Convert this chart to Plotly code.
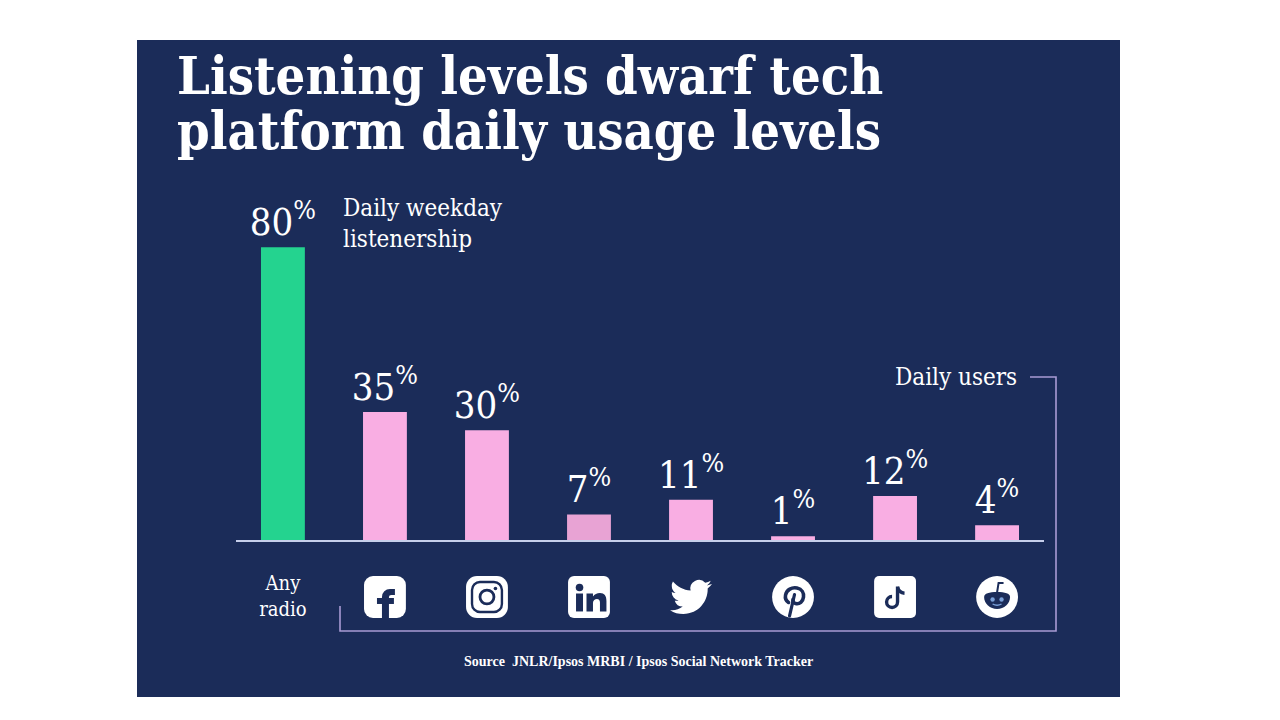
import base64
import plotly.graph_objects as go

# ---------------- data ----------------
categories = ["Any radio", "Facebook", "Instagram", "LinkedIn", "Twitter", "Pinterest", "TikTok", "Reddit"]
values = [80, 35, 30, 7, 11, 1, 12, 4]
tick_labels = ["Any<br>radio", "", "", "", "", "", "", ""]
bar_colors = ["#24d38f", "#f9aee3", "#f9aee3", "#e8a3d4", "#f9aee3", "#f9aee3", "#f9aee3", "#f9aee3"]

title_lines = ["Listening levels dwarf tech", "platform daily usage levels"]
radio_note = "Daily weekday<br>listenership"
users_note = "Daily users"
source_text = "<b>Source</b>  JNLR/Ipsos MRBI / Ipsos Social Network Tracker"

NAVY = "#1b2c59"
W, H = 1280, 720
SERIF = "DejaVu Serif Condensed, DejaVu Serif, serif"


def px(x):
    return x / W


def py(y):
    return 1 - y / H


def svg_uri(body):
    svg = ('<svg xmlns="http://www.w3.org/2000/svg" width="44" height="44" viewBox="0 0 44 44">'
           + body + '</svg>')
    return "data:image/svg+xml;base64," + base64.b64encode(svg.encode()).decode()


N = NAVY
icons = {
    "Facebook": svg_uri(
        '<rect x="1" y="1" width="42" height="42" rx="9" fill="white"/>'
        f'<path d="M19 43 V22 a8 8 0 0 1 8 -8 h5 v6 h-3.5 a2.5 2.5 0 0 0 -2.5 2.5 V43 Z" fill="{N}"/>'
        f'<rect x="14" y="23" width="17" height="6" fill="{N}"/>'),
    "Instagram": svg_uri(
        '<rect x="1" y="1" width="42" height="42" rx="11" fill="white"/>'
        f'<rect x="7" y="7" width="30" height="30" rx="8" fill="none" stroke="{N}" stroke-width="2.4"/>'
        f'<circle cx="22" cy="22" r="7" fill="none" stroke="{N}" stroke-width="2.8"/>'
        f'<circle cx="30.5" cy="13.5" r="1.8" fill="{N}"/>'),
    "LinkedIn": svg_uri(
        '<rect x="1" y="1" width="42" height="42" rx="6" fill="white"/>'
        f'<circle cx="12.5" cy="12.5" r="3.8" fill="{N}"/>'
        f'<rect x="9" y="18.5" width="7" height="18" fill="{N}"/>'
        f'<path d="M19.5 18.5 H26 V21.5 C27.5 19.5 30 18 33 18 C37.5 18 39.5 21 39.5 26 V36.5 H33 V27.5 '
        f'C33 25.5 32 24 30 24 C28 24 26 25.5 26 27.8 V36.5 H19.5 Z" fill="{N}"/>'),
    "Twitter": svg_uri(
        '<g transform="translate(1 1) scale(1.75)">'
        '<path fill="white" d="M23.953 4.57a10 10 0 01-2.825.775 4.958 4.958 0 002.163-2.723c-.951.555-2.005.959'
        '-3.127 1.184a4.92 4.92 0 00-8.384 4.482C7.69 8.095 4.067 6.13 1.64 3.162a4.822 4.822 0 00-.666 2.475c0 '
        '1.71.87 3.213 2.188 4.096a4.904 4.904 0 01-2.228-.616v.06a4.923 4.923 0 003.946 4.827 4.996 4.996 0 '
        '01-2.212.085 4.936 4.936 0 004.604 3.417 9.867 9.867 0 01-6.102 2.105c-.39 0-.779-.023-1.17-.067a13.995 '
        '13.995 0 007.557 2.209c9.053 0 13.998-7.496 13.998-13.985 0-.21 0-.42-.015-.63A9.935 9.935 0 0024 4.59z"/>'
        '</g>'),
    "Pinterest": svg_uri(
        '<circle cx="22" cy="22" r="21" fill="white"/>'
        f'<path d="M17.5 27.5 C14.5 25.5 14 22.5 14.5 20 C15.5 14.5 21 12 26 13 C31 14 33 18 32.5 22 '
        f'C32 26.5 28.5 29.5 24.5 28.5 C22.5 28 21.5 26.5 22 24.5" fill="none" stroke="{N}" stroke-width="3.6" '
        f'stroke-linecap="round"/>'
        f'<path d="M23.5 19.5 L18.5 41" stroke="{N}" stroke-width="3.2" stroke-linecap="round"/>'),
    "TikTok": svg_uri(
        '<rect x="1" y="1" width="42" height="42" rx="5" fill="white"/>'
        f'<path d="M24.5 11.5 V27 a5.5 5.5 0 1 1 -5.5 -5.5" fill="none" stroke="{N}" stroke-width="3.4"/>'
        f'<path d="M24.5 12 C25.5 16 28 18 31.5 18.2" fill="none" stroke="{N}" stroke-width="3.4"/>'),
    "Reddit": svg_uri(
        '<circle cx="22" cy="22" r="21" fill="white"/>'
        f'<path d="M9 22 C9 18.5 14 17 22 17 C30 17 35 18.5 35 22 C35 29 29 34 22 34 C15 34 9 29 9 22 Z" fill="{N}"/>'
        '<circle cx="17.5" cy="24.5" r="2.2" fill="#7aa0d8"/>'
        '<circle cx="26.5" cy="24.5" r="2.2" fill="#7aa0d8"/>'
        '<path d="M17.5 29 Q22 31.5 26.5 29" fill="none" stroke="#7aa0d8" stroke-width="1.3"/>'
        f'<path d="M22 17.5 L23.5 8 L28.5 8" fill="none" stroke="{N}" stroke-width="2"/>'),
}

fig = go.Figure()
fig.add_trace(go.Bar(
    x=categories,
    y=values,
    marker=dict(color=bar_colors, line=dict(width=0)),
    texttemplate="%{y}<sup>%</sup>",
    textposition="outside",
    constraintext="none",
    cliponaxis=False,
    textfont=dict(family=SERIF, size=38, color="white"),
    hoverinfo="skip",
))

shapes = [
    # navy panel
    dict(type="rect", xref="paper", yref="paper", x0=px(137), x1=px(1120), y0=py(697), y1=py(40),
         fillcolor=NAVY, line=dict(width=0), layer="below"),
    # "Daily users" bracket
    dict(type="path", xref="paper", yref="paper",
         path=f"M {px(1030)} {py(377)} L {px(1056)} {py(377)} L {px(1056)} {py(631)} "
              f"L {px(340)} {py(631)} L {px(340)} {py(606)}",
         line=dict(color="#a99bd4", width=1.6), layer="below"),
]

annotations = [
    dict(text=title_lines[0], xref="paper", yref="paper", x=px(175), y=py(76), xanchor="left",
         yanchor="middle", showarrow=False, font=dict(family=SERIF, size=52, color="white", weight="bold")),
    dict(text=title_lines[1], xref="paper", yref="paper", x=px(175), y=py(130), xanchor="left",
         yanchor="middle", showarrow=False, font=dict(family=SERIF, size=52, color="white", weight="bold")),
    dict(text=radio_note, xref="x", yref="y", x=categories[0], y=values[0], xanchor="left", yanchor="bottom",
         xshift=58, yshift=-8, align="left", showarrow=False,
         font=dict(family=SERIF, size=24, color="white")),
    dict(text=users_note, xref="paper", yref="paper", x=px(1019), y=py(377), xanchor="right",
         yanchor="middle", showarrow=False, font=dict(family=SERIF, size=24, color="white")),
    dict(text=source_text, xref="paper", yref="paper", x=px(638), y=py(661), xanchor="center",
         yanchor="middle", showarrow=False,
         font=dict(family="Liberation Serif, serif", size=14, color="white", weight="bold")),
]

images = []
for i, cat in enumerate(categories):
    if cat in icons:
        images.append(dict(source=icons[cat], xref="x", yref="paper", x=i, y=py(597),
                           sizex=0.43, sizey=44 / H, xanchor="center", yanchor="middle",
                           sizing="contain", layer="above"))

fig.update_layout(
    width=W, height=H,
    margin=dict(l=0, r=0, t=0, b=0),
    paper_bgcolor="white",
    plot_bgcolor="rgba(0,0,0,0)",
    showlegend=False,
    bargap=0.57,
    shapes=shapes,
    annotations=annotations,
    images=images,
    xaxis=dict(domain=[px(236), px(1044)], range=[-0.46, 7.46], type="category",
               tickmode="array", tickvals=categories, ticktext=tick_labels,
               tickfont=dict(family=SERIF, size=20, color="white"),
               showline=True, linecolor="#c6cfeb", linewidth=2, ticks="", ticklabelstandoff=24,
               showgrid=False, zeroline=False, fixedrange=True),
    yaxis=dict(domain=[py(540), py(540) + 366 / H], range=[0, 100], visible=False,
               showgrid=False, zeroline=False, fixedrange=True),
)

fig.write_html("out.html", config={"displayModeBar": False},
               post_script="document.body.style.margin='0';")
